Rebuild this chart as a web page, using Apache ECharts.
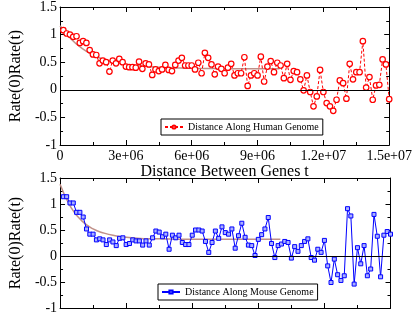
<!DOCTYPE html>
<html><head><meta charset="utf-8">
<script src="https://cdn.jsdelivr.net/npm/echarts@6/dist/echarts.min.js"></script>
<style>html,body{margin:0;padding:0;background:#fff}#c{width:415px;height:315px}</style>
</head><body><div id="c"></div>
<script>
// ---- data ----
const STEP = 150000; // spacing of samples along genome (t of sample i = (i+1)*STEP)
const humanValues = [1.08,1.02,1.00,0.96,0.97,0.85,0.88,0.85,0.72,0.64,
0.63,0.48,0.53,0.50,0.33,0.53,0.48,0.56,0.50,0.42,
0.41,0.41,0.40,0.51,0.38,0.48,0.46,0.27,0.37,0.34,
0.37,0.45,0.36,0.34,0.45,0.53,0.58,0.44,0.44,0.44,
0.37,0.49,0.30,0.67,0.58,0.46,
0.28,0.42,0.38,0.30,0.40,0.47,0.26,0.30,0.30,0.59,
0.07,0.26,0.30,0.26,0.60,0.15,0.42,0.52,0.32,0.49,
0.44,0.21,0.47,0.18,0.34,0.32,0.19,-0.01,0.26,-0.04,
-0.30,-0.12,0.36,-0.04,-0.24,-0.30,-0.38,-0.18,0.17,0.12,
-0.16,0.47,0.19,0.32,0.32,0.88,0.04,0.23,-0.18,0.08,
0.09,0.55,0.46,-0.17];
const mouseValues = [1.14,1.14,1.02,1.02,0.84,0.84,0.75,0.52,0.42,0.42,
0.31,0.33,0.31,0.22,0.31,0.27,0.20,0.34,0.35,0.22,
0.24,0.31,0.29,0.29,0.21,0.29,0.21,0.35,0.48,0.46,
0.37,0.42,0.13,0.40,0.35,0.40,0.26,0.22,0.22,0.40,
0.50,0.50,0.48,0.28,0.07,0.26,
0.48,0.34,0.56,0.45,0.42,0.52,0.15,0.39,0.63,0.36,
0.21,0.20,0.01,0.32,0.41,0.52,0.74,0.24,-0.03,0.20,
0.23,0.28,0.26,-0.04,0.18,0.09,0.20,0.28,0.33,-0.03,
-0.08,0.13,0.07,0.30,-0.19,-0.51,-0.06,-0.36,-0.47,-0.38,
0.91,0.77,-0.54,0.16,-0.15,0.20,-0.38,-0.25,0.80,0.38,
-0.40,0.40,0.47,0.42];
const fitT = [0,5e5,1e6,1.5e6,2e6,2.5e6,3e6,3.5e6,4e6,4.5e6,5e6,5.5e6,6e6,6.5e6,7e6,7.5e6,8e6,8.5e6,9e6,9.5e6,1e7];
const humanFit = [1.16,0.92,0.75,0.63,0.55,0.50,0.46,0.44,0.42,0.41,0.40,0.395,0.39,0.385,0.385,0.38,0.38,0.38,0.38,0.38,0.38];
const mouseFit = [1.38,0.93,0.67,0.52,0.44,0.39,0.36,0.34,0.33,0.33,0.325,0.32,0.32,0.32,0.32,0.32,0.32,0.32,0.32,0.32,0.32];
const xTicks = [0,3e6,6e6,9e6,1.2e7,1.5e7];
const yTicks = [-1,-0.5,0,0.5,1,1.5];
const humanName = 'Distance Along Human Genome';
const mouseName = 'Distance Along Mouse Genome';
const xTitle = 'Distance Between Genes t';
const yTitle = 'Rate(0)Rate(t)';
// ---- build ----
const pairs = (vals) => vals.map((v,i)=>[(i+1)*STEP, v]);
const fitPairs = (vals) => vals.map((v,i)=>[fitT[i], v]);
const SERIF = 'Liberation Serif';
function fmtX(v){ if(v===0) return '0'; const s=v.toExponential(); const m=s.split('e'); let e=m[1]; const sign=e[0]; let d=e.slice(1); if(d.length<2) d='0'+d; return m[0]+'e'+sign+d; }
function xAx(grid, pos, labels){
  return {type:'value', gridIndex:grid, position:pos, min:xTicks[0], max:xTicks[xTicks.length-1], interval:3e6,
    axisLine:{show:true,onZero:false,lineStyle:{color:'#000',width:1}},
    axisTick:{show:true,inside:true,length:5,lineStyle:{color:'#000'}},
    minorTick:{show:true,splitNumber:2,length:3,lineStyle:{color:'#000'}},
    splitLine:{show:false},
    axisLabel:{show:labels,color:'#000',fontFamily:SERIF,fontSize:14,margin:4,formatter:fmtX},
    name: (labels? xTitle : ''), nameLocation:'middle', nameGap:16,
    nameTextStyle:{color:'#000',fontFamily:SERIF,fontSize:16}};
}
function yAx(grid, pos, labels){
  return {type:'value', gridIndex:grid, position:pos, min:yTicks[0], max:yTicks[yTicks.length-1], interval:0.5,
    axisLine:{show:true,onZero:false,lineStyle:{color:'#000',width:1}},
    axisTick:{show:true,inside:true,length:5,lineStyle:{color:'#000'}},
    minorTick:{show:true,splitNumber:2,length:3,lineStyle:{color:'#000'}},
    splitLine:{show:false},
    axisLabel:{show:labels,color:'#000',fontFamily:SERIF,fontSize:14,margin:3,formatter:v=>String(v)},
    name:(labels? yTitle:''), nameLocation:'middle', nameGap:22, nameRotate:90,
    nameTextStyle:{color:'#000',fontFamily:SERIF,fontSize:16}};
}
const zeroLine = {silent:true, symbol:['none','none'], label:{show:false},
  lineStyle:{color:'#000',type:'solid',width:1}, emphasis:{disabled:true}, data:[{yAxis:0}]};
const legendBase = {orient:'horizontal', borderColor:'#000', borderWidth:1, borderRadius:0,
  padding:[3,4,3,3], itemWidth:18, itemHeight:4, itemGap:4,
  textStyle:{color:'#000',fontFamily:SERIF,fontSize:10}};
const option = {
  animation:false,
  backgroundColor:'#fff',
  grid:[{left:43.5,top:6,width:347,height:139},{left:43.5,top:178,width:347,height:131}],
  xAxis:[xAx(0,'bottom',true), xAx(0,'top',false), xAx(1,'bottom',false), xAx(1,'top',false)],
  yAxis:[yAx(0,'left',true), yAx(0,'right',false), yAx(1,'left',true), yAx(1,'right',false)],
  legend:[
    Object.assign({data:[humanName], left:161, top:119}, legendBase),
    Object.assign({data:[mouseName], left:158, top:284}, legendBase)
  ],
  series:[
    {name:'humanFit', type:'line', xAxisIndex:0, yAxisIndex:0, data:fitPairs(humanFit), smooth:true, showSymbol:false,
     lineStyle:{color:'#c09088',width:1.5}, z:1, silent:true},
    {name:humanName, type:'line', xAxisIndex:0, yAxisIndex:0, data:pairs(humanValues),
     symbol:'circle', symbolSize:5.5, showAllSymbol:true,
     itemStyle:{color:'#fff',borderColor:'#ff0000',borderWidth:1.2},
     lineStyle:{color:'#ff0000',width:1,type:[3,2]}, z:3, markLine:zeroLine},
    {name:'mouseFit', type:'line', xAxisIndex:2, yAxisIndex:2, data:fitPairs(mouseFit), smooth:true, showSymbol:false,
     lineStyle:{color:'#c09088',width:1.5}, z:1, silent:true},
    {name:mouseName, type:'line', xAxisIndex:2, yAxisIndex:2, data:pairs(mouseValues),
     symbol:'rect', symbolSize:4, showAllSymbol:true,
     itemStyle:{color:'#aab0ff',borderColor:'#0000ff',borderWidth:1},
     lineStyle:{color:'#0000ff',width:1,type:'solid'}, z:3, markLine:zeroLine}
  ]
};
const chart = echarts.init(document.getElementById('c'), null, {renderer:'canvas'});
chart.setOption(option);
</script></body></html>
